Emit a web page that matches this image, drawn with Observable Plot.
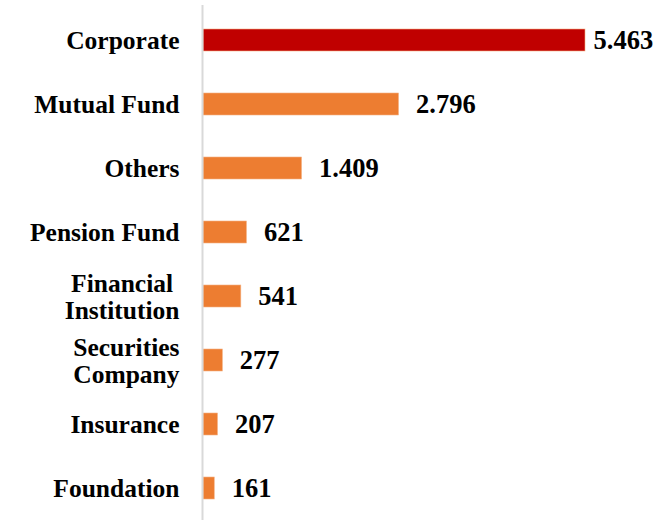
<!DOCTYPE html>
<html><head><meta charset="utf-8">
<script src="https://cdn.jsdelivr.net/npm/d3@7"></script>
<script src="https://cdn.jsdelivr.net/npm/@observablehq/plot@0.6"></script>
<style>
body{margin:0;background:#fff;}
</style>
</head><body>
<div id="chart"></div>
<script>
const categories = ["Corporate","Mutual Fund","Others","Pension Fund","Financial\nInstitution","Securities\nCompany","Insurance","Foundation"];
const values = [5463, 2796, 1409, 621, 541, 277, 207, 161];
const colors = ["#C00000","#ED7D31","#ED7D31","#ED7D31","#ED7D31","#ED7D31","#ED7D31","#ED7D31"];

const data = categories.map((c,i)=>({cat:c, value:values[i], color:colors[i]}));
const fmt = d3.formatLocale({thousands:".", decimal:",", grouping:[3], currency:["",""]}).format(",d");

const font = "'Liberation Serif', serif";
const valueText = {x:"value", y:"cat", text:d=>fmt(d.value), textAnchor:"start", fontSize:26.5, fontWeight:"bold", fill:"#000"};
const chart = Plot.plot({
  width: 667, height: 520,
  marginLeft: 203, marginRight: 82, marginTop: 5, marginBottom: 0,
  style: {fontFamily: font, background:"#fff"},
  x: {domain:[0,5463], axis:null},
  y: {domain: categories, range:[5,522], paddingInner:0.66, paddingOuter:0.33, label:null},
  marks: [
    Plot.axisY({tickSize:0, tickPadding:24, fontSize:25.5, fontWeight:"bold", lineHeight:1.06, fill:"#000", label:null}),
    Plot.barX(data, {x:"value", y:"cat", fill:"color", stroke:"#F4B183", strokeWidth:0.6}),
    Plot.ruleX([0], {stroke:"#d9d9d9", strokeWidth:2, dx:-1}),
    Plot.text(data.slice(0,1), {...valueText, dx:8}),
    Plot.text(data.slice(1), {...valueText, dx:17})
  ]
});
document.getElementById("chart").appendChild(chart);

// center multi-line tick labels as in the original
d3.select(chart).selectAll("text").each(function(){
  const t = d3.select(this);
  const spans = t.selectAll("tspan");
  if (spans.size() > 1) {
    let w = 0;
    spans.each(function(){ w = Math.max(w, this.getComputedTextLength()); });
    t.attr("text-anchor","middle");
    spans.attr("x", -w/2);
  }
});
</script>
</body></html>
